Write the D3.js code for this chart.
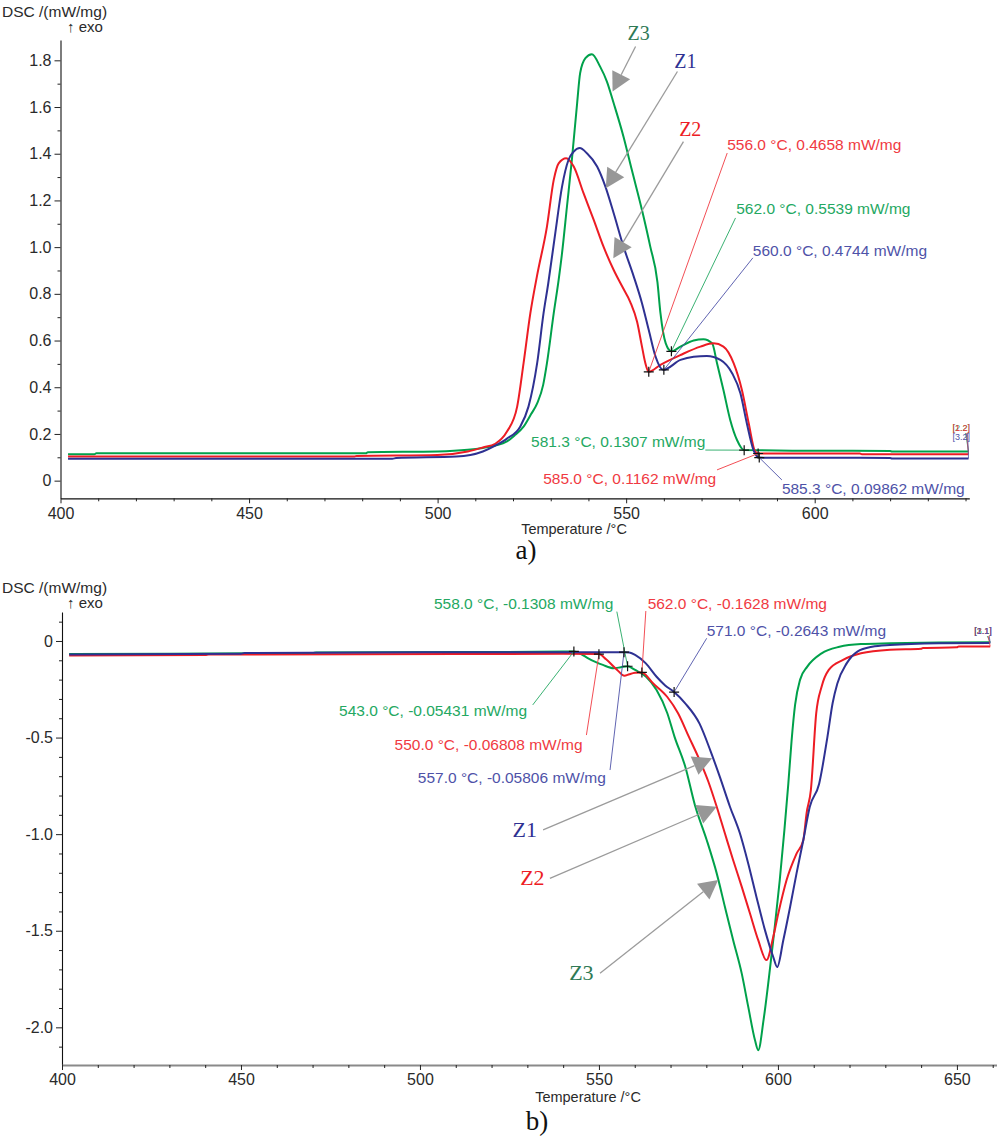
<!DOCTYPE html>
<html><head><meta charset="utf-8">
<script src="https://cdn.jsdelivr.net/npm/d3@7"></script>
<style>body{margin:0;background:#fff}svg{display:block}</style>
</head><body><svg id="c" width="997" height="1137"></svg>
<script>
// ---------------- DATA ----------------
// Panel a) heating (exo up): [temperature °C, DSC mW/mg]
const topZ1 = [[402,0.094],[488,0.094],[489,0.097],[505,0.103],[512,0.125],[515.3,0.150],[518.4,0.180],[521.9,0.231],[524.1,0.317],[526.4,0.503],[528.1,0.717],[529.3,0.840],[531.2,1.059],[533.0,1.259],[534.7,1.373],[536.1,1.409],[537.7,1.424],[539.6,1.402],[542.3,1.345],[544.5,1.259],[546.7,1.145],[549.3,1.002],[552.0,0.875],[554.2,0.760],[556.0,0.645],[557.8,0.531],[559.8,0.4744],[564.4,0.517],[567.9,0.531],[571.4,0.534],[575.0,0.517],[578.1,0.460],[580.3,0.374],[582.0,0.246],[583.8,0.130],[585.3,0.0986],[620,0.097],[620.5,0.095],[640.8,0.095]];
const topZ2 = [[402,0.103],[478,0.103],[478.5,0.106],[500,0.110],[508,0.125],[512,0.142],[515.3,0.158],[518.4,0.210],[521.1,0.317],[522.8,0.503],[524.6,0.717],[526.4,0.880],[529.0,1.088],[530.8,1.288],[532.1,1.359],[534.1,1.381],[536.1,1.345],[538.7,1.231],[541.4,1.117],[544.0,1.002],[546.7,0.902],[549.0,0.830],[551.1,0.765],[552.9,0.680],[554.2,0.574],[555.1,0.503],[556.0,0.4658],[559.1,0.496],[564.4,0.538],[569.7,0.574],[573.2,0.588],[575.8,0.574],[578.5,0.503],[580.7,0.388],[582.5,0.246],[584.2,0.125],[585.0,0.1162],[612,0.116],[612.5,0.113],[640.8,0.113]];
const topZ3 = [[402,0.113],[409,0.113],[409.5,0.117],[481,0.117],[481.5,0.122],[500,0.125],[508,0.132],[512,0.140],[515.3,0.150],[518.4,0.168],[520.5,0.195],[522.8,0.231],[524.8,0.285],[526.4,0.331],[528,0.410],[529.0,0.503],[530.8,0.717],[532.1,0.860],[533.0,0.974],[534.3,1.173],[535.6,1.373],[537.0,1.616],[537.8,1.745],[539.2,1.809],[540.9,1.826],[543.1,1.773],[544.9,1.709],[546.7,1.616],[549.3,1.473],[551.5,1.331],[554.2,1.159],[556.4,1.002],[558.3,0.850],[559.1,0.717],[560.5,0.588],[562.0,0.5539],[564.4,0.574],[567.9,0.600],[570.5,0.606],[572.8,0.588],[574.1,0.503],[575.8,0.388],[577.6,0.260],[579.4,0.174],[581.3,0.1307],[600,0.128],[620,0.127],[620.5,0.125],[640.8,0.125]];

// Panel b) cooling: [temperature °C, DSC mW/mg]
const botZ1 = [[402,-0.070],[450,-0.066],[451,-0.062],[520,-0.058],[557.0,-0.058],[558.5,-0.060],[560.1,-0.072],[563.1,-0.116],[566.1,-0.185],[568.5,-0.230],[571.0,-0.2643],[574.1,-0.323],[578.1,-0.428],[581.1,-0.566],[583.8,-0.705],[586.6,-0.858],[589.4,-0.997],[591.7,-1.152],[594.0,-1.325],[596.4,-1.498],[598.7,-1.636],[599.8,-1.688],[601.5,-1.549],[603.4,-1.377],[605.2,-1.203],[607.1,-1.030],[608.9,-0.858],[611.5,-0.740],[613.8,-0.500],[615.3,-0.320],[616.6,-0.220],[619.2,-0.116],[622.2,-0.055],[626.3,-0.030],[631.3,-0.021],[645,-0.012],[659.3,-0.010]];
const botZ2 = [[402,-0.075],[440,-0.073],[441,-0.070],[510,-0.068],[540,-0.066],[550.0,-0.068],[552,-0.095],[555.1,-0.150],[557.1,-0.180],[558.5,-0.172],[560.1,-0.165],[562.0,-0.1628],[565.1,-0.219],[569.1,-0.290],[572.1,-0.374],[575.1,-0.495],[578.1,-0.616],[580.6,-0.730],[582.9,-0.858],[585.2,-0.997],[587.5,-1.135],[589.9,-1.273],[592.2,-1.411],[594.5,-1.549],[596.8,-1.652],[598.7,-1.531],[600.1,-1.411],[602.4,-1.239],[605.2,-1.101],[607.1,-1.030],[608.0,-0.892],[609.2,-0.772],[610.7,-0.374],[612.2,-0.237],[614.2,-0.150],[618.2,-0.098],[623.2,-0.064],[631.3,-0.045],[640,-0.040],[640.5,-0.036],[650,-0.033],[650.5,-0.029],[659.3,-0.028]];
const botZ3 = [[402,-0.068],[430,-0.066],[470,-0.062],[471,-0.060],[520,-0.057],[540,-0.055],[543.0,-0.0543],[545,-0.068],[547.0,-0.090],[549,-0.108],[551.1,-0.124],[554.1,-0.141],[556.1,-0.136],[558.0,-0.1308],[560.1,-0.150],[563.1,-0.184],[566.1,-0.254],[569.1,-0.374],[571.1,-0.495],[574.1,-0.650],[576.8,-0.849],[580.1,-1.030],[582.9,-1.203],[585.2,-1.377],[587.5,-1.549],[589.9,-1.722],[591.7,-1.893],[593.6,-2.067],[594.5,-2.118],[596.0,-1.960],[597.5,-1.740],[599.0,-1.500],[600.5,-1.240],[601.8,-0.980],[602.9,-0.740],[603.8,-0.520],[604.8,-0.330],[606.2,-0.200],[608.2,-0.133],[612.2,-0.064],[617.2,-0.030],[623.2,-0.016],[631.3,-0.012],[645,-0.008],[659.3,-0.006]];

// tick values
const topYTicks = [0,0.2,0.4,0.6,0.8,1.0,1.2,1.4,1.6,1.8];
const topXTicks = [400,450,500,550,600];
const botYTicks = [0,-0.5,-1.0,-1.5,-2.0];
const botXTicks = [400,450,500,550,600,650];

// point annotations: series, T, value, label, label anchor (T,v), leader start (T,v)
const topNotes = [
  ["Z2",556.0,0.4658,"556.0 °C, 0.4658 mW/mg",576.8,1.438,576.8,1.403],
  ["Z3",562.0,0.5539,"562.0 °C, 0.5539 mW/mg",579.2,1.164,579.0,1.125],
  ["Z1",560.0,0.4744,"560.0 °C, 0.4744 mW/mg",583.6,0.988,583.6,0.954],
  ["Z3",581.3,0.1307,"581.3 °C, 0.1307 mW/mg",524.8,0.167,571.0,0.131],
  ["Z2",585.0,0.1162,"585.0 °C, 0.1162 mW/mg",528.0,0.010,574.1,0.046],
  ["Z1",585.3,0.09862,"585.3 °C, 0.09862 mW/mg",591.3,-0.033,591.3,0.003]
];
const botNotes = [
  ["Z3",558.0,-0.1308,"558.0 °C, -0.1308 mW/mg",503.9,0.195,555.0,0.152],
  ["Z2",562.0,-0.1628,"562.0 °C, -0.1628 mW/mg",563.6,0.195,563.1,0.155],
  ["Z1",571.0,-0.2643,"571.0 °C, -0.2643 mW/mg",580.1,0.053,580.1,0.014],
  ["Z3",543.0,-0.05431,"543.0 °C, -0.05431 mW/mg",477.4,-0.361,531.5,-0.331],
  ["Z2",550.0,-0.06808,"550.0 °C, -0.06808 mW/mg",492.9,-0.533,546.5,-0.487],
  ["Z1",557.0,-0.05806,"557.0 °C, -0.05806 mW/mg",499.4,-0.706,553.1,-0.668]
];
// curve name arrows: name, label (T,v), arrow start (T,v), arrow tip (T,v)
const topArrows = [
  ["Z3",553.3,1.887,552.5,1.859,546.4,1.666],
  ["Z1",565.7,1.767,563.6,1.752,544.6,1.252],
  ["Z2",567.0,1.474,565.2,1.452,546.6,0.952]
];
const botArrows = [
  ["Z1",529.3,-1.014,534.4,-0.978,581.6,-0.607],
  ["Z2",531.4,-1.264,536.3,-1.229,582.9,-0.858],
  ["Z3",545.1,-1.754,550.3,-1.720,583.3,-1.237]
];

// ---------------- DRAWING ----------------
const svg = d3.select('#c');
const SANS = "'Liberation Sans', Arial, Helvetica, sans-serif";
const SERIF = "'Liberation Serif', 'Times New Roman', serif";
const LINE = {Z1:'#2e3192', Z2:'#ed1c24', Z3:'#00a14b'};
const NOTE = {Z1:'#4e52a8', Z2:'#f03a42', Z3:'#24a862'};
const ZLAB = {Z1:'#2e3192', Z2:'#ed1c24', Z3:'#2f7a55'};

function range(a,b,s){const r=[];for(let v=a;v<=b+1e-9;v+=s)r.push(+v.toFixed(3));return r;}

function drawPanel(o){
  const g = svg.append('g');
  const x = o.x, y = o.y;
  const x0 = x.range()[0];
  const yb = y.range()[0];
  // y axis
  const ya = g.append('g').attr('transform',`translate(${x0},0)`)
    .call(d3.axisLeft(y).tickValues(o.yTicks).tickSize(6).tickSizeOuter(0).tickPadding(3)
      .tickFormat(d=> d===0?'0':d3.format('.1f')(d).replace('−','-')));
  ya.select('.domain').attr('stroke','#111').attr('stroke-width',1.1);
  ya.selectAll('.tick line').attr('stroke','#222');
  ya.selectAll('text').attr('font-family',SANS).attr('font-size',16).attr('fill','#2a2a2a');
  const ym = g.append('g').attr('transform',`translate(${x0},0)`)
    .call(d3.axisLeft(y).tickValues(o.yMinor.filter(v=>!o.yTicks.some(t=>Math.abs(t-v)<1e-6))).tickSize(3).tickFormat(''));
  ym.select('.domain').remove(); ym.selectAll('line').attr('stroke','#222');
  // x axis
  const xa = g.append('g').attr('transform',`translate(0,${yb})`)
    .call(d3.axisBottom(x).tickValues(o.xTicks).tickSize(5).tickSizeOuter(0).tickPadding(4));
  xa.select('.domain').attr('stroke',o.xAxisColor).attr('stroke-width',o.xAxisWidth);
  xa.selectAll('.tick line').attr('stroke','#222');
  xa.selectAll('text').attr('font-family',SANS).attr('font-size',16).attr('fill','#2a2a2a');
  const xm = g.append('g').attr('transform',`translate(0,${yb})`)
    .call(d3.axisBottom(x).tickValues(o.xMinor.filter(v=>!o.xTicks.includes(v))).tickSize(3).tickFormat(''));
  xm.select('.domain').remove(); xm.selectAll('line').attr('stroke','#222');

  // titles
  g.append('text').attr('x',2).attr('y',o.titleY).attr('font-family',SANS).attr('font-size',15.5)
    .attr('fill','#2a2a2a').text('DSC /(mW/mg)');
  g.append('text').attr('x',67).attr('y',o.titleY+15).attr('font-family',SANS).attr('font-size',15)
    .attr('fill','#2a2a2a').text('↑ exo');
  g.append('text').attr('x',o.xTitleX).attr('y',o.xTitleY).attr('text-anchor','middle')
    .attr('font-family',SANS).attr('font-size',14.5).attr('fill','#2a2a2a').text('Temperature /°C');
  g.append('text').attr('x',o.capX).attr('y',o.capY).attr('text-anchor','middle')
    .attr('font-family',SERIF).attr('font-size',27).attr('fill','#111').text(o.cap);

  // curves
  const line = d3.line().x(d=>x(d[0])).y(d=>y(d[1])).curve(d3.curveMonotoneX);
  o.series.forEach(([name,data])=>{
    g.append('path').datum(data).attr('d',line).attr('fill','none')
      .attr('stroke',LINE[name]).attr('stroke-width',2).attr('stroke-linejoin','round');
  });
  // end labels
  o.series.forEach(([name,data],i)=>{
    const last = data[data.length-1];
    const lx = x(last[0]), ly = y(last[1]);
    g.append('line').attr('x1',lx).attr('y1',ly).attr('x2',lx-3+i).attr('y2',o.endLabY+2)
      .attr('stroke',NOTE[name]).attr('stroke-width',0.8);
    g.append('text').attr('x',lx-16).attr('y',o.endLabY + o.endOff[i]).attr('font-family',SANS)
      .attr('font-size',9).attr('fill',NOTE[name]).text(o.endText[i]);
  });

  // annotations
  o.notes.forEach(([name,T,v,label,lt,lv,st,sv])=>{
    g.append('line').attr('x1',x(st)).attr('y1',y(sv)).attr('x2',x(T)).attr('y2',y(v))
      .attr('stroke',NOTE[name]).attr('stroke-width',0.9);
    g.append('text').attr('x',x(lt)).attr('y',y(lv)).attr('dy','0.36em')
      .attr('font-family',SANS).attr('font-size',15.5).attr('fill',NOTE[name]).text(label);
  });
  o.notes.forEach(([name,T,v])=>{
    const px=x(T), py=y(v);
    g.append('path').attr('d',`M${px-5},${py}H${px+5}M${px},${py-5}V${py+5}`)
      .attr('stroke','#111').attr('stroke-width',1.2);
  });

  // name arrows
  o.arrows.forEach(([name,lt,lv,st,sv,tt,tv])=>{
    const sx=x(st), sy=y(sv), tx=x(tt), ty=y(tv);
    const dx=tx-sx, dy=ty-sy, len=Math.hypot(dx,dy), ux=dx/len, uy=dy/len;
    const L=19, hw=10, bx=tx-ux*L, by=ty-uy*L;
    g.append('line').attr('x1',sx).attr('y1',sy).attr('x2',bx).attr('y2',by)
      .attr('stroke','#9b9b9b').attr('stroke-width',1.3);
    g.append('path').attr('d',`M${tx},${ty}L${bx-uy*hw},${by+ux*hw}L${bx+uy*hw},${by-ux*hw}Z`)
      .attr('fill','#979797');
    g.append('text').attr('x',x(lt)).attr('y',y(lv)).attr('text-anchor','middle')
      .attr('font-family',SERIF).attr('font-size',o.zSize).attr('fill',ZLAB[name]).text(name);
  });
}

// Panel a
const xA = d3.scaleLinear().domain([400,641]).range([60.5,969.3]);
const yA = d3.scaleLinear().domain([-0.0756,1.887]).range([498.3,40]);
drawPanel({x:xA,y:yA,yTicks:topYTicks,yMinor:range(0,1.8,0.1),xTicks:topXTicks,xMinor:range(400,640,10),
  xAxisColor:'#111',xAxisWidth:1.2,titleY:17,xTitleX:574,xTitleY:534,capX:526,capY:559,cap:'a)',
  series:[['Z3',topZ3],['Z2',topZ2],['Z1',topZ1]],endLabY:431,endOff:[0,0,9],endText:['[2.2]','[1.2]','[3.2]'],
  notes:topNotes,arrows:topArrows,zSize:20});

// Panel b
const xB = d3.scaleLinear().domain([400,661.2]).range([62,997]);
const yB = d3.scaleLinear().domain([-2.195,0.150]).range([1065,612]);
drawPanel({x:xB,y:yB,yTicks:botYTicks,yMinor:range(-2.1,0.1,0.1),xTicks:botXTicks,xMinor:range(400,660,10),
  xAxisColor:'#8a8a8a',xAxisWidth:2.2,titleY:593,xTitleX:588,xTitleY:1102,capX:537,capY:1130,cap:'b)',
  series:[['Z3',botZ3],['Z2',botZ2],['Z1',botZ1]],endLabY:634,endOff:[0,0,0],endText:['[3.1]','[2.1]','[1.1]'],
  notes:botNotes,arrows:botArrows,zSize:22});
</script></body></html>
